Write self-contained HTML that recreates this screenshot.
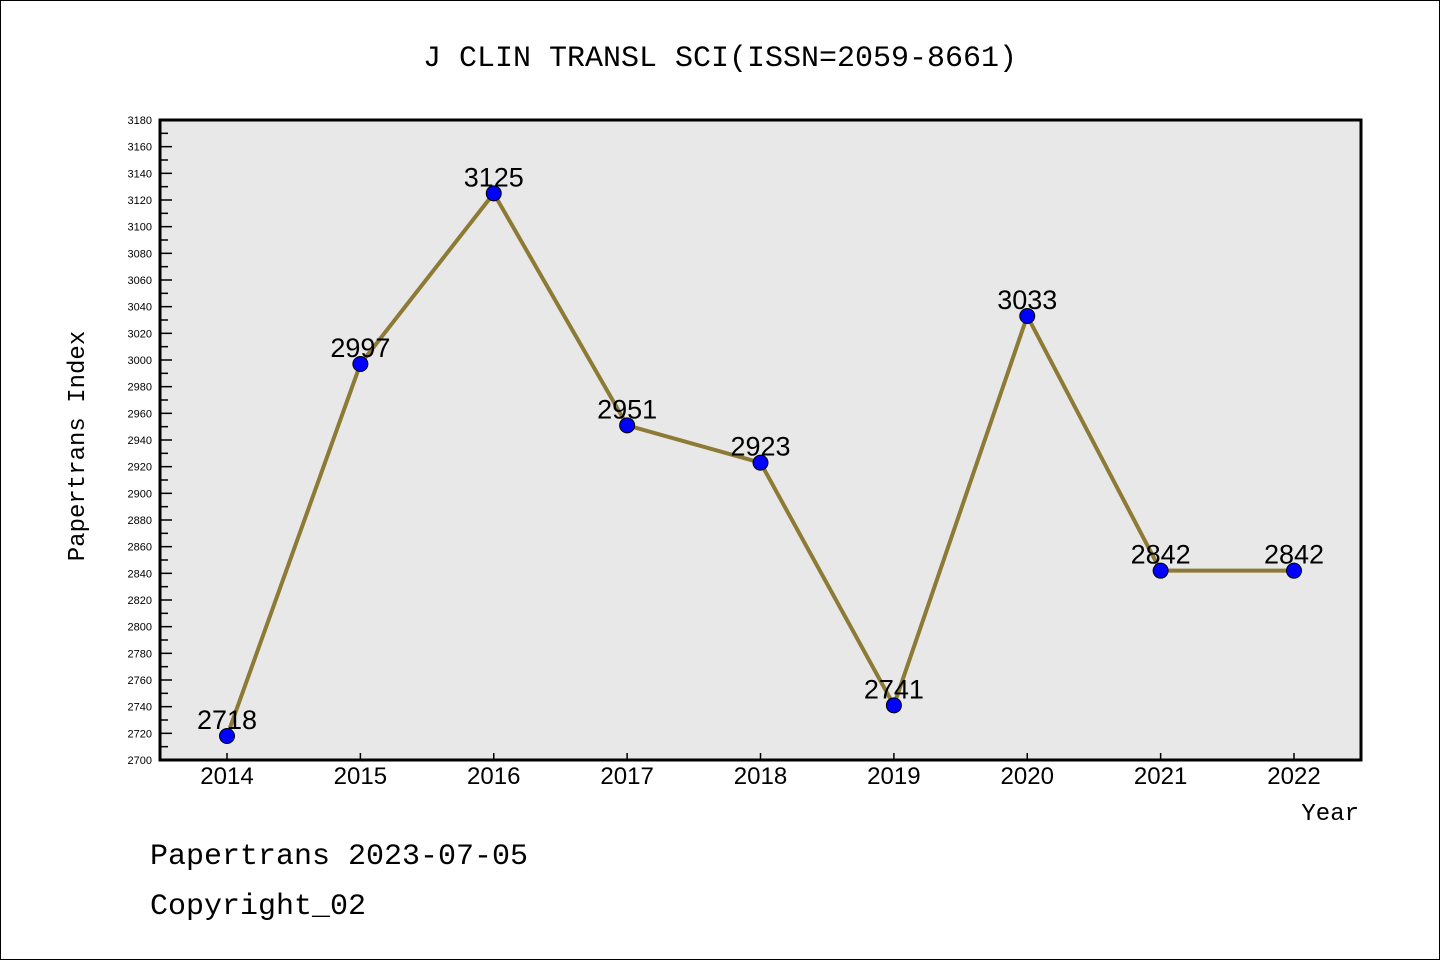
<!DOCTYPE html>
<html><head><meta charset="utf-8"><style>
html,body{margin:0;padding:0;background:#fff}
svg{display:block}
</style></head><body>
<svg id="chart" width="1440" height="960" xmlns="http://www.w3.org/2000/svg">
<rect x="0.5" y="0.5" width="1439" height="959" fill="#fff" stroke="#000" stroke-width="1"/>
<text x="720" y="66" text-anchor="middle" font-family="Liberation Mono, monospace" font-size="30">J CLIN TRANSL SCI(ISSN=2059-8661)</text>
<rect x="160" y="120" width="1201" height="640" fill="#e8e8e8"/>
<g id="yticks"></g><g id="xticks"></g>
<path id="line" fill="none" stroke="#8c7a35" stroke-width="4"/>
<g id="points"></g>
<rect x="160" y="120" width="1201" height="640" fill="none" stroke="#000" stroke-width="3"/>
<text transform="translate(84,446) rotate(-90)" text-anchor="middle" font-family="Liberation Mono, monospace" font-size="24">Papertrans Index</text>
<text x="1359" y="820" text-anchor="end" font-family="Liberation Mono, monospace" font-size="24">Year</text>
<text x="150" y="864" font-family="Liberation Mono, monospace" font-size="30">Papertrans 2023-07-05</text>
<text x="150" y="914" font-family="Liberation Mono, monospace" font-size="30">Copyright_02</text>
</svg>
<script>
const years = [2014,2015,2016,2017,2018,2019,2020,2021,2022];
const values = [2718,2997,3125,2951,2923,2741,3033,2842,2842];
const yMin = 2700, yMax = 3180, yStep = 20;
const NS = "http://www.w3.org/2000/svg";
const L=160,R=1361,T=120,B=760;
function xs(i){return 227 + i*(1294-227)/(years.length-1);}
function ys(v){return B - (v-yMin)/(yMax-yMin)*(B-T);}
function mk(tag,attrs,parent){const e=document.createElementNS(NS,tag);for(const k in attrs)e.setAttribute(k,attrs[k]);parent.appendChild(e);return e;}
const yt=document.getElementById('yticks');
for(let v=yMin;v<=yMax;v+=yStep/2){
  const major=(v-yMin)%yStep===0;
  const t=mk('line',{x1:L,x2:L+(major?12:8),y1:ys(v),y2:ys(v),stroke:'#000','stroke-width':1.5},yt);
  
  
  if(major){
    const lb=mk('text',{x:152,y:ys(v)+4,'text-anchor':'end','font-family':'Liberation Sans, sans-serif','font-size':11},yt);
    
    
    lb.textContent=v;
  }
}
const xt=document.getElementById('xticks');
years.forEach((y,i)=>{
  const t=mk('line',{x1:xs(i),x2:xs(i),y1:B,y2:B-7,stroke:'#000','stroke-width':1.5},xt);
  
  
  const lb=mk('text',{x:xs(i),y:784,'text-anchor':'middle','font-family':'Liberation Sans, sans-serif','font-size':24},xt);
  
  
  lb.textContent=y;
});
document.getElementById('line').setAttribute('d',values.map((v,i)=>(i?'L':'M')+xs(i)+' '+ys(v)).join(' '));
const pg=document.getElementById('points');
values.forEach((v,i)=>{
  const c=mk('circle',{cx:xs(i),cy:ys(v),r:7.5,fill:'#0000ff',stroke:'#000','stroke-width':1},pg);
  
  
  const lb=mk('text',{x:xs(i),y:ys(v)-7,'text-anchor':'middle','font-family':'Liberation Sans, sans-serif','font-size':27},pg);
  
  
  lb.textContent=v;
});
</script>
</body></html>
